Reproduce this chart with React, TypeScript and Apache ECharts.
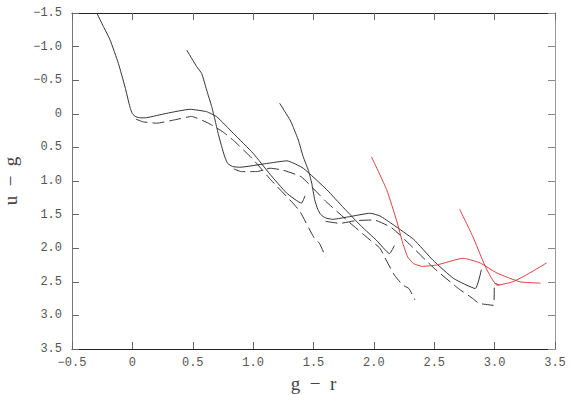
import React, { useEffect, useRef } from "react";
import * as echarts from "echarts";

// Track 1 (solid / dashed)
const t1Solid: [number, number][] = [
  [-0.295, -1.5], [-0.24, -1.3], [-0.185, -1.1], [-0.116, -0.75], [-0.061, -0.4], [-0.02, -0.1],
  [0.0, 0.0], [0.03, 0.045], [0.07, 0.06], [0.118, 0.058], [0.284, -0.007], [0.477, -0.067], [0.615, -0.031], [0.698, 0.043],
  [0.836, 0.29], [1.0, 0.588], [1.14, 0.9], [1.278, 1.18], [1.4, 1.33], [1.43, 1.22],
];
const t1Dashed: [number, number][] = [
  [0.03, 0.08], [0.09, 0.12], [0.2, 0.14], [0.35, 0.09], [0.49, 0.04], [0.63, 0.14], [0.75, 0.27],
  [0.84, 0.4], [1.0, 0.68], [1.15, 0.99], [1.33, 1.33], [1.39, 1.46], [1.5, 1.83], [1.55, 1.93], [1.6, 2.13],
];
// Track 2
const t2Solid: [number, number][] = [
  [0.45, -0.95], [0.533, -0.7], [0.574, -0.6], [0.615, -0.354], [0.657, -0.106], [0.684, 0.09],
  [0.71, 0.29], [0.74, 0.49], [0.765, 0.64], [0.79, 0.74], [0.83, 0.785], [0.89, 0.795], [1.11, 0.74], [1.28, 0.7],
  [1.415, 0.81], [1.61, 1.13], [1.75, 1.4], [1.9, 1.68], [2.02, 1.88], [2.13, 2.08], [2.17, 1.96],
];
const t2Dashed: [number, number][] = [
  [0.84, 0.82], [0.9, 0.86], [1.03, 0.86], [1.14, 0.81], [1.25, 0.84], [1.4, 0.94], [1.6, 1.3],
  [1.8, 1.62], [1.97, 1.88], [2.05, 2.0], [2.1, 2.17], [2.17, 2.4], [2.24, 2.55], [2.29, 2.6], [2.34, 2.77],
];
// Track 3
const t3Solid: [number, number][] = [
  [1.22, -0.156], [1.305, 0.09], [1.33, 0.19], [1.374, 0.39], [1.415, 0.64], [1.457, 0.84],
  [1.485, 1.03], [1.51, 1.28], [1.535, 1.42], [1.56, 1.5], [1.6, 1.55], [1.66, 1.57], [1.8, 1.53], [1.97, 1.48],
  [2.05, 1.52], [2.16, 1.65], [2.33, 1.87], [2.49, 2.18], [2.66, 2.45], [2.84, 2.6], [2.89, 2.32],
];
const t3Dashed: [number, number][] = [
  [1.6, 1.6], [1.72, 1.63], [1.85, 1.59], [2.0, 1.58], [2.15, 1.7], [2.3, 1.95], [2.5, 2.3],
  [2.7, 2.6], [2.82, 2.75], [2.87, 2.82], [2.99, 2.85], [3.0, 2.52], [3.04, 2.55],
];
// Red tracks
const red1: [number, number][] = [
  [1.98, 0.64], [2.106, 1.13], [2.19, 1.6], [2.24, 1.93], [2.28, 2.13], [2.33, 2.23], [2.4, 2.27], [2.52, 2.25],
  [2.74, 2.15], [2.88, 2.22], [3.02, 2.37], [3.21, 2.5], [3.38, 2.52],
];
const red2: [number, number][] = [
  [2.71, 1.42], [2.82, 1.83], [2.91, 2.22], [2.95, 2.37], [3.02, 2.55], [3.15, 2.5], [3.29, 2.37], [3.43, 2.22],
];

const fmt = (v: number) => (v === 0 ? "0" : v.toFixed(1).replace("-", "\u2212"));

export default function App() {
  const ref = useRef<HTMLDivElement>(null);
  useEffect(() => {
    const chart = echarts.init(ref.current!, null, { renderer: "svg" });
    const axisLabel = { fontFamily: "Liberation Mono", fontSize: 12, color: "#555", formatter: fmt };
    const solid = (data: [number, number][], color = "#333") => ({
      type: "line", data, showSymbol: false, smooth: 0.15, silent: true,
      lineStyle: { color, width: 1 },
    });
    const dashed = (data: [number, number][]) => ({
      type: "line", data, showSymbol: false, smooth: 0.15, silent: true,
      lineStyle: { color: "#333", width: 1, type: [12, 5] },
    });
    chart.setOption({
      animation: false,
      grid: { left: 72, right: 15, top: 13, bottom: 46, containLabel: false, outerBoundsMode: "none" },
      xAxis: [
        {
          type: "value", min: -0.5, max: 3.5, interval: 0.5, position: "bottom",
          name: "g  \u2212  r", nameLocation: "middle", nameGap: 23,
          nameTextStyle: { fontFamily: "Liberation Serif", fontSize: 19, color: "#444" },
          axisLine: { onZero: false, lineStyle: { color: "#222", width: 1 } },
          axisTick: { inside: true, length: 7, lineStyle: { color: "#666" } },
          axisLabel: { ...axisLabel, margin: 8 },
          splitLine: { show: false },
        },
        {
          type: "value", min: -0.5, max: 3.5, interval: 0.5, position: "top",
          axisLine: { onZero: false, lineStyle: { color: "#222", width: 1 } },
          axisTick: { inside: true, length: 7, lineStyle: { color: "#666" } },
          axisLabel: { show: false }, splitLine: { show: false },
        },
      ],
      yAxis: [
        {
          type: "value", min: -1.5, max: 3.5, interval: 0.5, inverse: true, position: "left",
          name: "u  \u2212  g", nameLocation: "middle", nameGap: 52, nameRotate: 90,
          nameTextStyle: { fontFamily: "Liberation Serif", fontSize: 19, color: "#444" },
          axisLine: { onZero: false, lineStyle: { color: "#777", width: 1 } },
          axisTick: { inside: true, length: 7, lineStyle: { color: "#666" } },
          axisLabel: { ...axisLabel, margin: 10 },
          splitLine: { show: false },
        },
        {
          type: "value", min: -1.5, max: 3.5, interval: 0.5, inverse: true, position: "right",
          axisLine: { onZero: false, lineStyle: { color: "#999", width: 1 } },
          axisTick: { inside: true, length: 7, lineStyle: { color: "#888" } },
          axisLabel: { show: false }, splitLine: { show: false },
        },
      ],
      series: [
        solid(t1Solid), dashed(t1Dashed),
        solid(t2Solid), dashed(t2Dashed),
        solid(t3Solid), dashed(t3Dashed),
        solid(red1, "#e0403f"), solid(red2, "#e0403f"),
      ],
    });
    return () => chart.dispose();
  }, []);
  return <div ref={ref} style={{ position: "fixed", left: 0, top: 0, width: 570, height: 395, background: "#fff" }} />;
}
